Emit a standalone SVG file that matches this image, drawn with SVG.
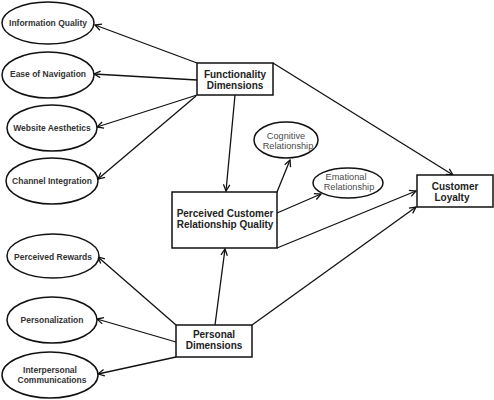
<svg xmlns="http://www.w3.org/2000/svg" width="494" height="400" viewBox="0 0 494 400">
<defs>
<style>
.n{fill:#fff;stroke:#111;stroke-width:1.5}
.t{font-family:"Liberation Sans",Arial,sans-serif;font-weight:bold;fill:#333;text-anchor:middle}
.s{font-size:8.5px}
.b{font-size:10px;fill:#222}
.g{font-family:"Liberation Sans",Arial,sans-serif;font-size:9.2px;fill:#4a4a4a;text-anchor:middle}
.c line{stroke:#111;stroke-width:1.3;marker-end:url(#a)}
</style>
<marker id="a" viewBox="0 0 10 10" refX="9" refY="5" markerWidth="8" markerHeight="8" markerUnits="userSpaceOnUse" orient="auto">
<polyline points="1,1 9,5 1,9" fill="none" stroke="#111" stroke-width="1.6"/>
</marker>
</defs>
<rect width="494" height="400" fill="#fff"/>
<g class="c">
<line x1="197" y1="63" x2="95" y2="25"/>
<line x1="197" y1="80" x2="94" y2="74"/>
<line x1="197" y1="95" x2="97" y2="127"/>
<line x1="196" y1="96" x2="98" y2="179"/>
<line x1="235" y1="95" x2="226" y2="191"/>
<line x1="273" y1="63" x2="453" y2="175"/>
<line x1="277" y1="192" x2="290" y2="160"/>
<line x1="277" y1="213" x2="321" y2="194"/>
<line x1="277" y1="248" x2="416" y2="191"/>
<line x1="252" y1="325" x2="416" y2="207"/>
<line x1="215" y1="325" x2="225" y2="249"/>
<line x1="176" y1="325" x2="98" y2="257"/>
<line x1="176" y1="342" x2="97" y2="319"/>
<line x1="176" y1="357" x2="98" y2="374"/>
</g>
<g id="info-quality"><ellipse class="n" cx="48" cy="23" rx="46" ry="21"/><text class="t s" x="48" y="26">Information Quality</text></g>
<g id="ease-nav"><ellipse class="n" cx="48" cy="75" rx="46" ry="23"/><text class="t s" x="48" y="77">Ease of Navigation</text></g>
<g id="aesthetics"><ellipse class="n" cx="52" cy="128" rx="45" ry="23"/><text class="t s" x="52" y="131">Website Aesthetics</text></g>
<g id="channel"><ellipse class="n" cx="52" cy="181" rx="46" ry="23"/><text class="t s" x="52" y="184">Channel Integration</text></g>
<g id="rewards"><ellipse class="n" cx="53" cy="256" rx="46" ry="22"/><text class="t s" x="53" y="260">Perceived Rewards</text></g>
<g id="personalization"><ellipse class="n" cx="52" cy="320" rx="45" ry="23"/><text class="t s" x="52" y="323">Personalization</text></g>
<g id="interpersonal"><ellipse class="n" cx="50" cy="375" rx="48" ry="23"/><text class="t s" x="50" y="373">Interpersonal</text><text class="t s" x="52" y="383">Communications</text></g>
<g id="functionality"><rect class="n" x="197" y="63" width="76" height="32"/><text class="t b" x="235" y="78">Functionality</text><text class="t b" x="235" y="89">Dimensions</text></g>
<g id="pcrq"><rect class="n" x="172" y="192" width="105" height="56"/><text class="t b" x="225" y="217">Perceived Customer</text><text class="t b" x="225" y="228">Relationship Quality</text></g>
<g id="cognitive"><ellipse class="n" cx="286" cy="140" rx="32" ry="18"/><text class="g" x="286" y="139">Cognitive</text><text class="g" x="288" y="149">Relationship</text></g>
<g id="emotional"><ellipse class="n" cx="348" cy="183" rx="35" ry="15"/><text class="g" x="346" y="180">Emational</text><text class="g" x="349" y="190">Relationship</text></g>
<g id="loyalty"><rect class="n" x="417" y="175" width="76" height="32"/><text class="t b" x="455" y="190">Customer</text><text class="t b" x="452" y="201">Loyalty</text></g>
<g id="personal"><rect class="n" x="176" y="325" width="76" height="32"/><text class="t b" x="214" y="338">Personal</text><text class="t b" x="214" y="349">Dimensions</text></g>
</svg>
